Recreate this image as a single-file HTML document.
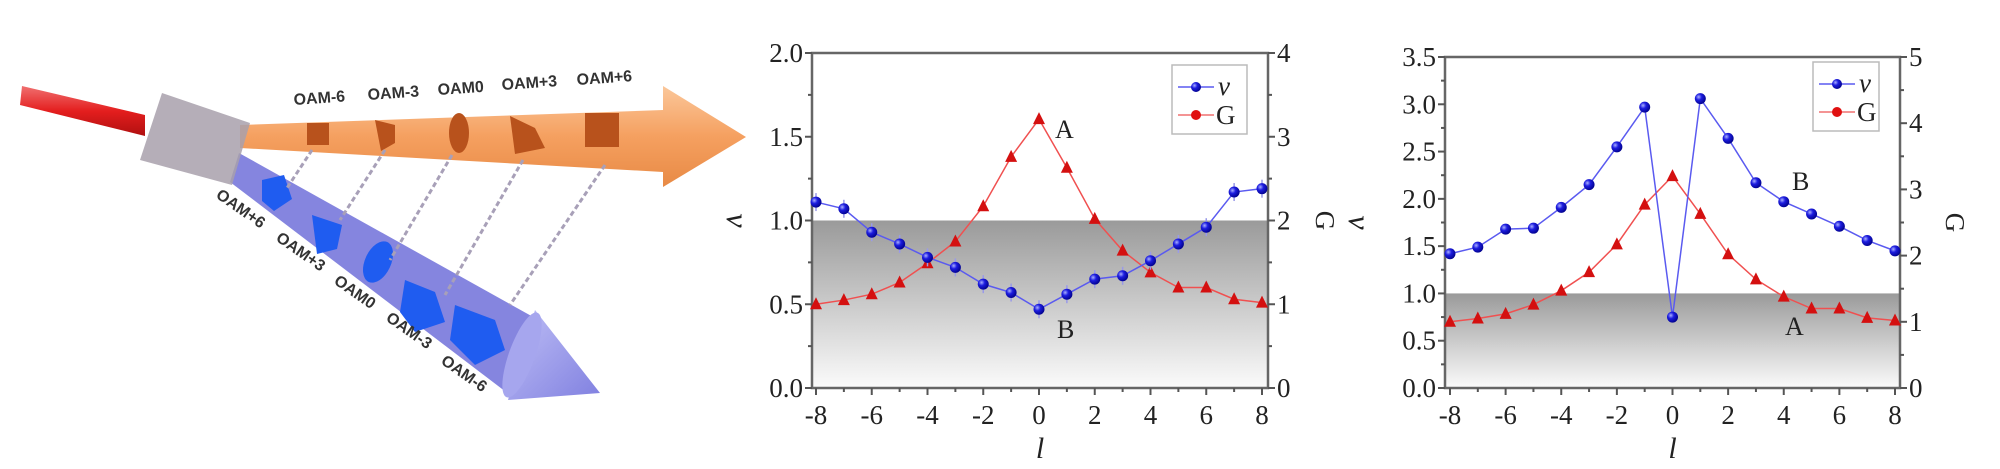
<!DOCTYPE html>
<html><head><meta charset="utf-8"><style>
html,body{margin:0;padding:0;background:#fff;}
svg{display:block;}
.oam{font-family:"Liberation Sans",sans-serif;font-weight:bold;font-size:16px;fill:#333;}
</style></head><body>
<svg id="s" width="2000" height="469" viewBox="0 0 2000 469" xmlns="http://www.w3.org/2000/svg">
<defs>
<linearGradient id="shade" x1="0" y1="0" x2="0" y2="1">
<stop offset="0" stop-color="#9a9a9a"/><stop offset="1" stop-color="#fbfbfb"/></linearGradient>
<linearGradient id="org" x1="0" y1="0" x2="0" y2="1">
<stop offset="0" stop-color="#fbc79a"/><stop offset="0.5" stop-color="#f5a060"/><stop offset="1" stop-color="#e88a45"/></linearGradient>
<linearGradient id="head" x1="0" y1="0" x2="1" y2="1">
<stop offset="0" stop-color="#c0c0f6"/><stop offset="1" stop-color="#8080e0"/></linearGradient>
<linearGradient id="red" x1="0" y1="0" x2="0" y2="1">
<stop offset="0" stop-color="#f07070"/><stop offset="0.5" stop-color="#e41e1e"/><stop offset="1" stop-color="#b01010"/></linearGradient>
<radialGradient id="ball" cx="0.35" cy="0.35" r="0.7">
<stop offset="0" stop-color="#aab0ff"/><stop offset="0.4" stop-color="#1d1de0"/><stop offset="1" stop-color="#00008a"/></radialGradient>
</defs>
<polygon points="22,86 145,115 145,136 20,105" fill="url(#red)"/>
<polygon points="239,153 535,318 510,395 230,182" fill="#7878dc" opacity="0.9"/>
<polygon points="535,310 600,393 508,400" fill="url(#head)"/>
<ellipse cx="522" cy="355" rx="13" ry="45" transform="rotate(20 522 355)" fill="#a6a6ee"/>
<polygon points="240,125 663,110 663,86 746,137 663,187 663,172 240,148" fill="url(#org)"/>
<polygon points="162,93 250,123 232,185 140,160" fill="#a8a0ac" opacity="0.85"/>
<g fill="#b8521c"><rect x="307" y="123" width="22" height="22"/><path d="M375,120 l20,5 l0,18 l-14,8 z"/><ellipse cx="459" cy="133" rx="10" ry="20"/><path d="M510,116 l25,12 l10,20 l-30,6 z"/><rect x="585" y="113" width="34" height="34"/></g>
<g fill="#1f5cf0"><path d="M262,180 l22,-5 l8,24 l-18,12 l-12,-10z"/><path d="M312,215 l30,10 l-5,24 l-20,5z"/><ellipse cx="378" cy="262" rx="13" ry="22" transform="rotate(25 378 262)"/><path d="M405,280 l30,12 l10,30 l-30,10 l-15,-20z"/><path d="M455,305 l40,15 l10,30 l-30,15 l-25,-25z"/></g>
<g stroke="#a8a0b8" stroke-width="3" stroke-dasharray="5 3" fill="none"><line x1="312" y1="150" x2="287" y2="188"/><line x1="385" y1="150" x2="340" y2="220"/><line x1="452" y1="155" x2="390" y2="260"/><line x1="523" y1="160" x2="445" y2="295"/><line x1="605" y1="165" x2="510" y2="305"/></g>
<text class="oam" x="294" y="105" transform="rotate(-4 294 105)">OAM-6</text>
<text class="oam" x="368" y="100" transform="rotate(-4 368 100)">OAM-3</text>
<text class="oam" x="438" y="95" transform="rotate(-4 438 95)">OAM0</text>
<text class="oam" x="502" y="90" transform="rotate(-4 502 90)">OAM+3</text>
<text class="oam" x="577" y="85" transform="rotate(-4 577 85)">OAM+6</text>
<text class="oam" x="215" y="197" transform="rotate(35 215 197)">OAM+6</text>
<text class="oam" x="275" y="240" transform="rotate(35 275 240)">OAM+3</text>
<text class="oam" x="333" y="283" transform="rotate(35 333 283)">OAM0</text>
<text class="oam" x="385" y="320" transform="rotate(35 385 320)">OAM-3</text>
<text class="oam" x="440" y="363" transform="rotate(35 440 363)">OAM-6</text>
<g id="charts" font-family="'Liberation Serif', 'DejaVu Serif', serif"></g>
</svg>
<script>
var NS="http://www.w3.org/2000/svg",g=document.getElementById("charts");
function el(t,a,txt){var e=document.createElementNS(NS,t);for(var k in a)e.setAttribute(k,a[k]);if(t=="text")e.setAttribute("font-family","Liberation Serif, serif");if(txt!=null)e.textContent=txt;g.appendChild(e);return e;}
function chart(c){
 var L=c.L,R=c.R,T=c.T,B=c.B,x0=c.x0,x8=c.x8;
 function X(l){return x0+(l+8)*(x8-x0)/16;}
 function Y(v){return B-(v/c.ymax)*(B-T);}
 function Y2(v){return B-(v/c.gmax)*(B-T);}
 el("rect",{x:L,y:Y(1),width:R-L,height:B-Y(1),fill:"url(#shade)"});
 el("rect",{x:L,y:T,width:R-L,height:B-T,fill:"none",stroke:"#666","stroke-width":2.5});
 for(var v=0;v<=c.ymax+1e-9;v+=0.25){var maj=Math.abs(v*2-Math.round(v*2))<1e-6;
  el("line",{x1:L,x2:L-(maj?7:4),y1:Y(v),y2:Y(v),stroke:"#555","stroke-width":2});
  if(maj)el("text",{x:L-9,y:Y(v)+9,"font-size":27,"text-anchor":"end",fill:"#222"},v.toFixed(1));}
 for(var v=0;v<=c.gmax+1e-9;v+=0.5){var maj=Math.abs(v-Math.round(v))<1e-6;
  el("line",{x1:R,x2:R+(maj?7:4),y1:Y2(v),y2:Y2(v),stroke:"#555","stroke-width":2});
  if(maj)el("text",{x:R+9,y:Y2(v)+9,"font-size":27,fill:"#222"},String(v));}
 for(var l=-8;l<=8;l++){var maj=l%2==0;
  el("line",{x1:X(l),x2:X(l),y1:B,y2:B+(maj?7:4),stroke:"#555","stroke-width":2});
  if(maj)el("text",{x:X(l),y:B+36,"font-size":27,"text-anchor":"middle",fill:"#222"},String(l));}
 el("text",{x:(L+R)/2,y:B+70,"font-size":30,"font-style":"italic","text-anchor":"middle",fill:"#222"},"l");
 el("text",{x:c.nx,y:(T+B)/2+9,"font-size":32,"font-style":"italic","text-anchor":"middle",fill:"#222",transform:"rotate(90 "+c.nx+" "+((T+B)/2)+")"},"ν");
 el("text",{x:c.gx,y:(T+B)/2+9,"font-size":27,"text-anchor":"middle",fill:"#222",transform:"rotate(90 "+c.gx+" "+((T+B)/2)+")"},"G");
 var pg="",pn="";
 for(var i=0;i<17;i++){pg+=X(i-8)+","+Y2(c.g[i])+" ";pn+=X(i-8)+","+Y(c.n[i])+" ";}
 el("polyline",{points:pg,fill:"none",stroke:"#f05050","stroke-width":1.5});
 el("polyline",{points:pn,fill:"none",stroke:"#5a5af0","stroke-width":1.5});
 for(var i=0;i<17;i++){var x=X(i-8),y=Y2(c.g[i]);
  el("polygon",{points:(x-6)+","+(y+5)+" "+(x+6)+","+(y+5)+" "+x+","+(y-7),fill:"#d41010"});
  if(c.err){var ye=Y(c.n[i]);el("line",{x1:x,x2:x,y1:ye-9,y2:ye+9,stroke:"#9a9ae8","stroke-width":1.5});}
  el("circle",{cx:x,cy:Y(c.n[i]),r:5.5,fill:"url(#ball)"});}
 var lx=c.lx,ly=c.ly;
 el("rect",{x:lx,y:ly,width:c.lw,height:69,fill:"#fff",stroke:"#bbb","stroke-width":1.5});
 el("line",{x1:lx+6,x2:lx+42,y1:ly+22,y2:ly+22,stroke:"#5a5af0","stroke-width":1.5});
 el("circle",{cx:lx+24,cy:ly+22,r:5,fill:"url(#ball)"});
 el("text",{x:lx+46,y:ly+30,"font-size":27,"font-style":"italic",fill:"#222"},"ν");
 el("line",{x1:lx+6,x2:lx+42,y1:ly+50,y2:ly+50,stroke:"#f07070","stroke-width":1.5});
 el("circle",{cx:lx+24,cy:ly+50,r:5,fill:"#e01010"});
 el("text",{x:lx+44,y:ly+59,"font-size":27,fill:"#222"},"G");
 for(var k=0;k<c.labels.length;k++){var q=c.labels[k];el("text",{x:q[1],y:q[2],"font-size":26,fill:"#222"},q[0]);}
}
chart({L:812,R:1268,T:53,B:388,x0:816,x8:1262,ymax:2,gmax:4,nx:736,gx:1325,lx:1172,ly:65,lw:75,err:true,
 n:[1.11,1.07,.93,.86,.78,.72,.62,.57,.47,.56,.65,.67,.76,.86,.96,1.17,1.19],
 g:[1.0,1.05,1.12,1.26,1.49,1.75,2.17,2.76,3.21,2.63,2.02,1.64,1.38,1.2,1.2,1.06,1.02],
 labels:[["A",1055,138],["B",1057,338]]});
chart({L:1445,R:1900,T:57,B:388,x0:1450,x8:1895,ymax:3.5,gmax:5,nx:1358,gx:1955,lx:1813,ly:62,lw:66,err:false,
 n:[1.42,1.49,1.68,1.69,1.91,2.15,2.55,2.97,0.75,3.06,2.64,2.17,1.97,1.84,1.71,1.56,1.45],
 g:[1.0,1.05,1.12,1.26,1.47,1.75,2.17,2.77,3.2,2.63,2.02,1.64,1.38,1.2,1.2,1.06,1.02],
 labels:[["B",1792,190],["A",1785,335]]});
</script>
</body></html>
